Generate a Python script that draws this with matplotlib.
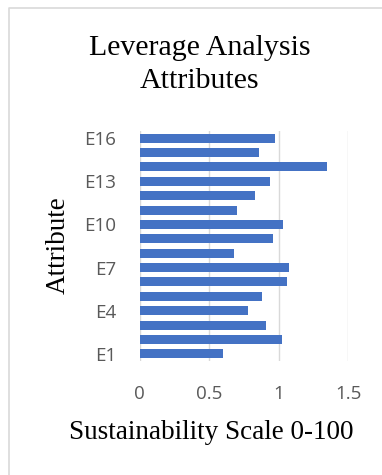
import matplotlib
matplotlib.use("Agg")
import matplotlib.pyplot as plt
from matplotlib.lines import Line2D

# leverage scores per attribute, E1 at the bottom
attributes = [f"E{i}" for i in range(1, 17)]
scores = [0.60, 1.02, 0.91, 0.78, 0.88, 1.06, 1.07, 0.68,
          0.96, 1.03, 0.70, 0.83, 0.94, 1.35, 0.86, 0.97]
x_ticks = [0, 0.5, 1, 1.5]
x_tick_labels = ["0", "0.5", "1", "1.5"]

W, H = 382, 475
fig = plt.figure(figsize=(W / 100, H / 100), dpi=100)
ax = fig.add_axes([139.7 / W, 1 - 361 / H, (348.3 - 139.7) / W, (361 - 131) / H])

ypos = list(range(len(attributes)))
ax.barh(ypos, scores, height=0.63, color="#4472C4", zorder=3)

ax.set_xlim(0, 1.5)
ax.set_ylim(-0.5, len(attributes) - 0.5)
ax.set_xticks(x_ticks)
ax.set_xticklabels(x_tick_labels)
ax.set_yticks(ypos[::3])
ax.set_yticklabels(attributes[::3])
ax.grid(axis="x", color="#D9D9D9", linewidth=1, zorder=0)
for s in ax.spines.values():
    s.set_visible(False)
ax.tick_params(length=0, colors="#595959", labelsize=13.5)
ax.tick_params(axis="y", pad=17)
ax.tick_params(axis="x", pad=17)
for lbl in ax.get_xticklabels() + ax.get_yticklabels():
    lbl.set_fontfamily("Open Sans")

serif = "Liberation Serif"
# two-line title, each line placed on its own baseline
fig.text(200 / W, 1 - 55 / H, "Leverage Analysis", ha="center", va="baseline",
         fontsize=21.5, family=serif)
fig.text(200 / W, 1 - 88 / H, "Attributes", ha="center", va="baseline",
         fontsize=21.5, family=serif)
fig.text(58 / W, 1 - 245 / H, "Attribute", rotation=90, ha="center", va="center",
         fontsize=19.5, family=serif)
fig.text(211 / W, 1 - 439 / H, "Sustainability Scale 0-100", ha="center", va="baseline",
         fontsize=19.5, family=serif)

# chart area frame, only top and left edges fall inside the image
fig.lines.append(Line2D([8.5 / W, 8.5 / W, 1], [0, 1 - 7.5 / H, 1 - 7.5 / H],
                        transform=fig.transFigure, color="#D9D9D9", linewidth=1.2))

fig.savefig("out.png", dpi=100)
